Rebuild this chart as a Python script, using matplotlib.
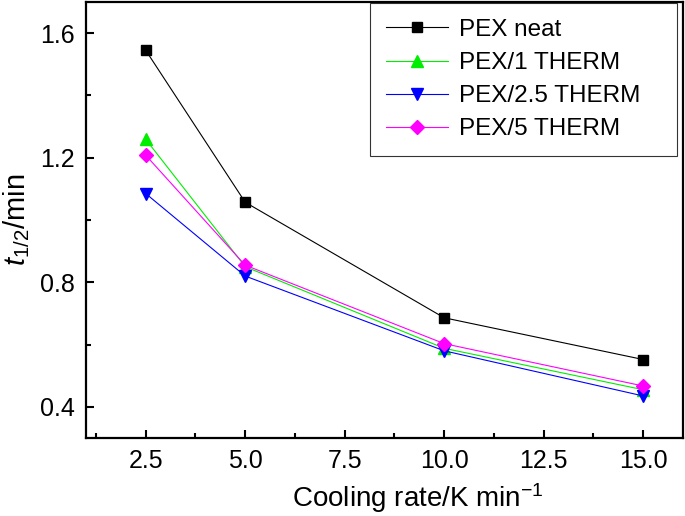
import matplotlib
matplotlib.use('Agg')
import matplotlib.pyplot as plt
from matplotlib.ticker import MultipleLocator, FormatStrFormatter

plt.rcParams['font.family'] = ['Liberation Sans', 'DejaVu Sans']
plt.rcParams['mathtext.fontset'] = 'custom'
plt.rcParams['mathtext.it'] = 'Liberation Sans:italic'
plt.rcParams['mathtext.rm'] = 'Liberation Sans'

# cooling rates and half-time values
rates = [2.5, 5.0, 10.0, 15.0]
pex_neat = [1.545, 1.057, 0.686, 0.552]
pex_1 = [1.259, 0.850, 0.588, 0.455]
pex_25 = [1.085, 0.820, 0.580, 0.435]
pex_5 = [1.208, 0.855, 0.603, 0.467]

labels = ['PEX neat', 'PEX/1 THERM', 'PEX/2.5 THERM', 'PEX/5 THERM']

fig = plt.figure(figsize=(6.85, 5.16), dpi=100)
ax = fig.add_axes([86 / 685, 1 - 438 / 516, (683 - 86) / 685, (438 - 2) / 516])

ax.plot(rates, pex_neat, color='black', marker='s', ms=7.5, lw=0.8, label=labels[0])
ax.plot(rates, pex_1, color='#00ee00', marker='^', ms=8.5, lw=0.8, label=labels[1])
ax.plot(rates, pex_25, color='#0000ff', marker='v', ms=8.5, lw=0.8, label=labels[2])
ax.plot(rates, pex_5, color='#ff00ff', marker='D', ms=7.5, lw=0.8, label=labels[3])

ax.set_xlim(1.0, 16.0)
ax.set_ylim(0.3, 1.7)
ax.xaxis.set_major_locator(MultipleLocator(2.5))
ax.xaxis.set_minor_locator(MultipleLocator(1.25))
ax.yaxis.set_major_locator(MultipleLocator(0.4))
ax.yaxis.set_minor_locator(MultipleLocator(0.2))
ax.xaxis.set_major_formatter(FormatStrFormatter('%.1f'))
ax.yaxis.set_major_formatter(FormatStrFormatter('%.1f'))
ax.tick_params(which='both', direction='in', width=1.5)
ax.tick_params(which='major', length=6, labelsize=18, pad=8)
ax.tick_params(which='minor', length=3.5)
for s in ax.spines.values():
    s.set_linewidth(1.6)

ax.set_xlabel('Cooling rate/K min$^{\\mathrm{-1}}$', fontsize=20)
ax.xaxis.set_label_coords(0.556, -0.099)
ax.set_ylabel('$t_{1/2}$/min', fontsize=21, labelpad=6)

leg = ax.legend(loc='upper right', fontsize=17.5, frameon=True, fancybox=False,
                edgecolor='black', handlelength=2.55, handletextpad=0.45,
                borderpad=0.65, labelspacing=0.46, borderaxespad=0,
                mode='expand', bbox_to_anchor=(0.476, 0.0, 0.514, 0.9977))
leg.get_frame().set_linewidth(0.8)

fig.savefig('out.png', dpi=100)
